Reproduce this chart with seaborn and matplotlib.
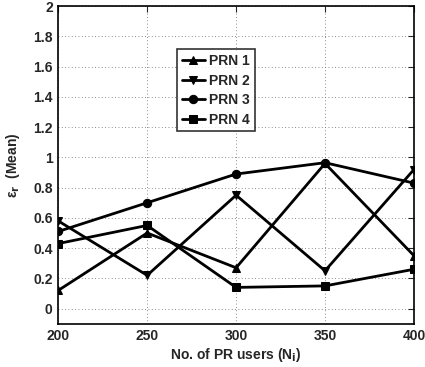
import matplotlib
matplotlib.use("Agg")
import matplotlib.pyplot as plt
import seaborn as sns
import pandas as pd

users = [200, 250, 300, 350, 400]
prn1 = [0.12, 0.50, 0.27, 0.96, 0.35]
prn2 = [0.58, 0.22, 0.75, 0.25, 0.92]
prn3 = [0.51, 0.70, 0.89, 0.965, 0.83]
prn4 = [0.43, 0.55, 0.14, 0.15, 0.26]
series_names = ["PRN 1", "PRN 2", "PRN 3", "PRN 4"]
yticks = [0, 0.2, 0.4, 0.6, 0.8, 1, 1.2, 1.4, 1.6, 1.8, 2]
ytick_labels = ["0", "0.2", "0.4", "0.6", "0.8", "1", "1.2", "1.4", "1.6", "1.8", "2"]

sns.set_style("white")
plt.rcParams["font.family"] = ["Liberation Sans", "DejaVu Sans"]
plt.rcParams["font.weight"] = "bold"

rows = []
for name, vals in zip(series_names, [prn1, prn2, prn3, prn4]):
    for u, v in zip(users, vals):
        rows.append({"users": u, "eps": v, "series": name})
df = pd.DataFrame(rows)

fig = plt.figure(figsize=(4.25, 3.67), dpi=100)
ax = fig.add_axes([0.137, 0.118, 0.837, 0.865])

markers = {"PRN 1": "^", "PRN 2": "v", "PRN 3": "o", "PRN 4": "s"}
sns.lineplot(data=df, x="users", y="eps", hue="series", style="series",
             markers=markers, dashes=False, palette=["black"] * 4,
             linewidth=2.0, markersize=6, markeredgecolor="black", ax=ax)

ax.set_xlim(200, 400)
ax.set_ylim(-0.1, 2)
ax.set_xticks(users)
ax.set_xticklabels([str(u) for u in users], fontsize=10, fontweight="bold")
ax.set_yticks(yticks)
ax.set_yticklabels(ytick_labels, fontsize=10, fontweight="bold")
ax.grid(True, linestyle=(0, (1, 3)), color="#666666", linewidth=0.6)
ax.tick_params(direction="in", length=4, width=0.8, top=True, right=True,
               pad=4, labelsize=10)
for s in ax.spines.values():
    s.set_linewidth(1.2)
    s.set_color("black")

ax.set_xlabel(r"No. of PR users (N$_\mathbf{i}$)", fontsize=10,
              fontweight="bold", labelpad=2)
ax.set_ylabel("\u03b5$_\\mathbf{r}$  (Mean)", fontsize=10,
              fontweight="bold", labelpad=8)

leg = ax.legend(loc="upper left", bbox_to_anchor=(0.333, 0.865),
                frameon=True, fancybox=False, fontsize=10, handlelength=1.7,
                borderpad=0.35, labelspacing=0.4, handletextpad=0.3,
                borderaxespad=0)
leg.get_frame().set_edgecolor("black")
leg.get_frame().set_linewidth(1.2)
for t in leg.get_texts():
    t.set_fontweight("bold")

fig.savefig("out.png", dpi=100)
